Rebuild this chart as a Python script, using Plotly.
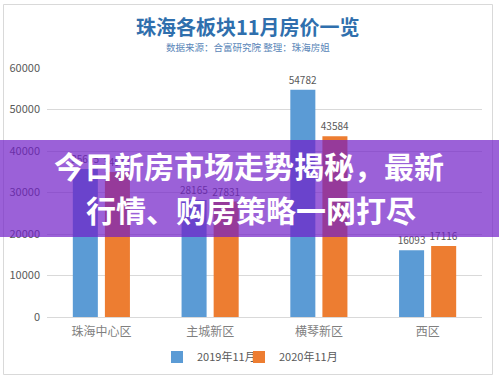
import plotly.graph_objects as go

categories = ["珠海中心区", "主城新区", "横琴新区", "西区"]
series_names = ["2019年11月", "2020年11月"]
values_2019 = [35635, 28165, 54782, 16093]
values_2020 = [34917, 27831, 43584, 17116]
y_ticks = [0, 10000, 20000, 30000, 40000, 50000, 60000]
y_tick_labels = ["0", "10000", "20000", "30000", "40000", "50000", "60000"]
title_text = "珠海各板块11月房价一览"
subtitle_text = "数据来源：合富研究院 整理：珠海房姐"
banner_line1 = "今日新房市场走势揭秘，最新"
banner_line2 = "行情、购房策略一网打尽"

W, H = 499, 378
ML, MR, MT, MB = 47, 17, 68, 61
PW, PH = W - ML - MR, H - MT - MB

def px(x):
    return (x - ML) / PW

def py(y):
    return 1 - (y - MT) / PH

FONT = "Noto Sans CJK SC"
colors = ["#5b9bd5", "#ed7d31"]
legend_ids = ["legend", "legend2"]

fig = go.Figure()
for name, vals, c, lg in zip(series_names, [values_2019, values_2020], colors, legend_ids):
    fig.add_trace(go.Bar(
        x=categories, y=vals, name=name, marker=dict(color=c, line=dict(width=0)),
        text=[str(v) for v in vals], textposition="outside", constraintext="none",
        textfont=dict(size=10, color="#595959", family=FONT),
        cliponaxis=False, legend=lg,
    ))

legend_style = dict(orientation="h", xanchor="left", y=py(357), yanchor="middle",
                    font=dict(size=11, color="#595959"), itemwidth=30,
                    bgcolor="rgba(0,0,0,0)")

fig.update_layout(
    width=W, height=H,
    margin=dict(l=ML, r=MR, t=MT, b=MB, autoexpand=False),
    paper_bgcolor="white", plot_bgcolor="white",
    barmode="group", bargap=0.41, bargroupgap=0.22,
    font=dict(family=FONT, color="#595959"),
    showlegend=True,
    legend=dict(x=px(157), **legend_style),
    legend2=dict(x=px(239), **legend_style),
    xaxis=dict(showgrid=False, showline=True, linecolor="#d9d9d9", linewidth=1,
               tickfont=dict(size=12, color="#7f7f7f"), ticks="", ticklabelstandoff=4),
    yaxis=dict(range=[0, 60000], tickvals=y_ticks, ticktext=y_tick_labels,
               showgrid=True, gridcolor="#d9d9d9",
               zeroline=False, showline=False, tickfont=dict(size=11, color="#595959"),
               ticklabelstandoff=6),
)

fig.add_shape(type="rect", xref="paper", yref="paper",
              x0=px(3.5), x1=px(492.5), y0=py(374.5), y1=py(4.5),
              line=dict(color="#d9d9d9", width=1), fillcolor="rgba(0,0,0,0)", layer="below")

fig.add_annotation(text=f"<b>{title_text}</b>", xref="paper", yref="paper",
                   x=px(248), y=py(27), showarrow=False, xanchor="center", yanchor="middle",
                   font=dict(size=20, color="#2f6fad", family=FONT))
fig.add_annotation(text=subtitle_text, xref="paper", yref="paper",
                   x=px(248), y=py(47), showarrow=False, xanchor="center", yanchor="middle",
                   font=dict(size=9.5, color="#5a86b8", family=FONT))

fig.add_shape(type="rect", xref="paper", yref="paper",
              x0=px(0), x1=px(499), y0=py(237), y1=py(140),
              line=dict(width=0), fillcolor="rgba(113,30,199,0.7)", layer="above")

fig.add_annotation(text=f"<b>{banner_line1}</b>", xref="paper", yref="paper",
                   x=px(249), y=py(165), showarrow=False, xanchor="center", yanchor="middle",
                   font=dict(size=30, color="white", family=FONT))
fig.add_annotation(text=f"<b>{banner_line2}</b>", xref="paper", yref="paper",
                   x=px(251), y=py(209), showarrow=False, xanchor="center", yanchor="middle",
                   font=dict(size=30, color="white", family=FONT))

fig.write_html("out.html", config={"displayModeBar": False},
               post_script="document.body.style.margin='0';document.body.style.overflow='hidden';")
